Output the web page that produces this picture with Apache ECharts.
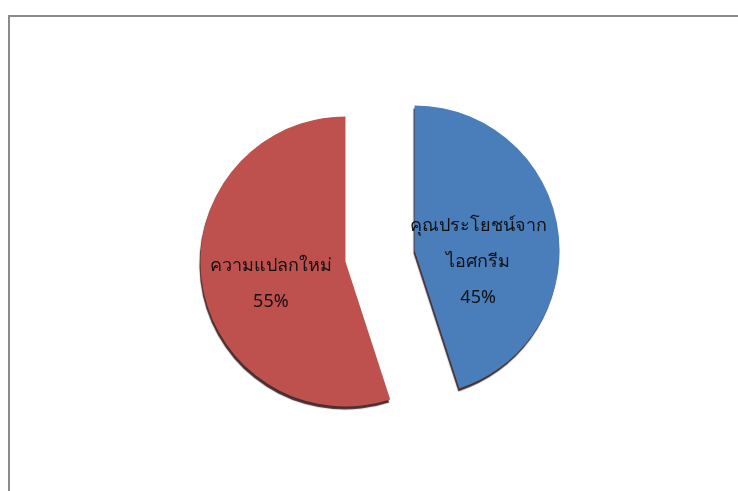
<!DOCTYPE html>
<html>
<head>
<meta charset="utf-8">
<script src="https://cdn.jsdelivr.net/npm/echarts@6/dist/echarts.min.js"></script>
<style>
  html, body { margin: 0; padding: 0; background: #fff; }
  #chart { width: 738px; height: 491px; }
</style>
</head>
<body>
<div id="chart"></div>
<script>
// Slice names and their shares (percent)
const sliceNames = ['คุณประโยชน์จาก\nไอศกรีม', 'ความแปลกใหม่'];
const sliceValues = [45, 55];
const sliceColors = ['#4A7EBB', '#BE514E'];
// Label nudges: right padding moves a label left, the spacer line moves it down
const labelPads = [[0, 22, 0, 0], [0, 0, 0, 0]];
const labelSpacers = ['gapL', 'gapS'];

const chart = echarts.init(document.getElementById('chart'));

const pieData = sliceNames.map((name, i) => ({
  name: name,
  value: sliceValues[i],
  selected: true,
  itemStyle: { color: sliceColors[i] },
  label: {
    padding: labelPads[i],
    formatter: '{' + labelSpacers[i] + '| }\n{b}\n{d}%'
  }
}));

chart.setOption({
  backgroundColor: '#ffffff',
  animation: false,
  graphic: [
    {
      type: 'polyline',
      shape: { points: [[9, 500], [9, 16], [760, 16]] },
      style: { stroke: '#8a8a8a', lineWidth: 2, fill: null },
      z: -10
    }
  ],
  series: [{
    type: 'pie',
    center: [380, 256],
    radius: 145,
    startAngle: 90,
    clockwise: true,
    selectedMode: 'multiple',
    selectedOffset: 35,
    emphasis: { disabled: true },
    itemStyle: {
      shadowColor: 'rgba(40,10,10,0.85)',
      shadowOffsetX: -1,
      shadowOffsetY: 3,
      shadowBlur: 1
    },
    label: {
      show: true,
      position: 'inner',
      color: '#111',
      fontSize: 18,
      lineHeight: 36,
      fontFamily: 'Noto Sans, DejaVu Sans, sans-serif',
      rich: {
        gapL: { fontSize: 10, lineHeight: 46, height: 46 },
        gapS: { fontSize: 10, lineHeight: 22, height: 22 }
      }
    },
    labelLine: { show: false },
    data: pieData
  }]
});
</script>
</body>
</html>
